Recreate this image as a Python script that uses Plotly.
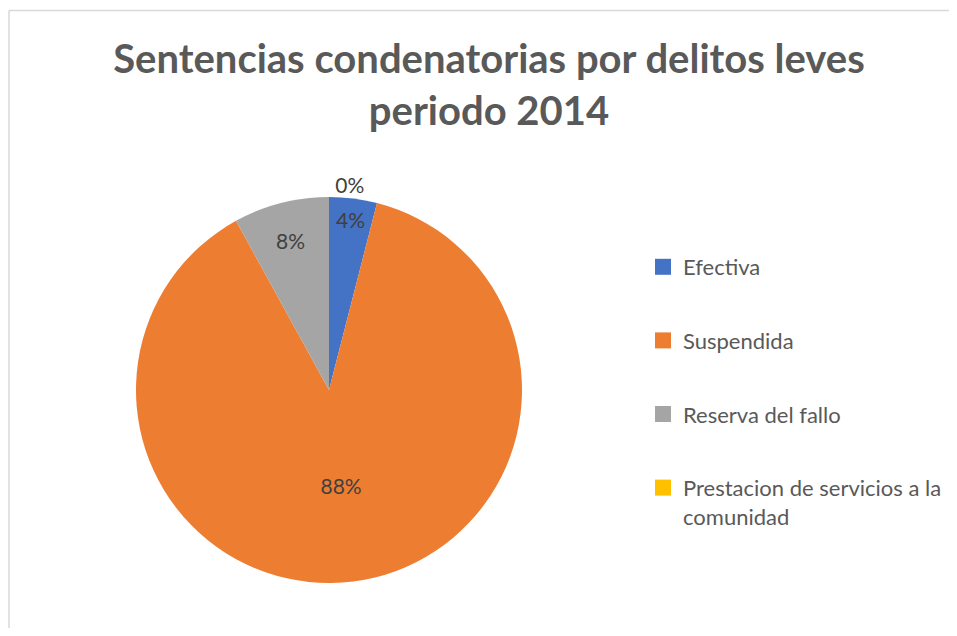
import plotly.graph_objects as go

labels = ['Efectiva', 'Suspendida', 'Reserva del fallo', 'Prestacion de servicios a la comunidad']
values = [4, 88, 8, 0]
colors = ['#4472C4', '#ED7D31', '#A5A5A5', '#FFC000']
legend_names = ['Efectiva', 'Suspendida', 'Reserva del fallo', 'Prestacion de servicios a la<br>comunidad']

OFF = 8  # page body margin
W, H = 957 - 2 * OFF, 636 - 2 * OFF


def px_x(x):
    return (x - OFF) / W


def px_y(y):
    return 1 - (y - OFF) / H


fig = go.Figure()

fig.add_trace(go.Pie(
    labels=labels,
    values=values,
    sort=False,
    direction='clockwise',
    rotation=0,
    marker=dict(colors=colors, line=dict(width=0)),
    texttemplate='%{percent:.0%}',
    textposition=['inside', 'inside', 'inside', 'outside'],
    insidetextorientation='horizontal',
    textfont=dict(family='Lato', size=21, color='#404040'),
    showlegend=False,
    domain=dict(x=[px_x(136), px_x(522)], y=[px_y(583), px_y(197)]),
))

# legend entries as separate groups so they can be spaced like the original
for name, col in zip(legend_names, colors):
    fig.add_trace(go.Scatter(
        x=[None], y=[None], mode='markers', name=name, legendgroup=name,
        marker=dict(symbol='square', size=16, color=col),
    ))

# chart-area frame: only top and left edges fall inside the picture
frame = dict(color='#D9D9D9', width=1.5)
fig.update_layout(
    width=W, height=H,
    margin=dict(l=0, r=0, t=0, b=0),
    paper_bgcolor='white',
    plot_bgcolor='white',
    title=dict(
        text='<b>Sentencias condenatorias por delitos leves<br>periodo 2014</b>',
        x=px_x(489), xanchor='center', y=1 - 65 / H, yanchor='top',
        font=dict(family='Lato', size=40, color='#595959'),
    ),
    xaxis=dict(visible=False),
    yaxis=dict(visible=False),
    legend=dict(
        x=px_x(643), y=px_y(246), xanchor='left', yanchor='top',
        font=dict(family='Lato', size=22, color='#595959'),
        tracegroupgap=42, valign='top', bgcolor='rgba(0,0,0,0)',
    ),
    shapes=[
        dict(type='line', xref='paper', yref='paper',
             x0=px_x(9), x1=1, y0=px_y(10.5), y1=px_y(10.5), line=frame),
        dict(type='line', xref='paper', yref='paper',
             x0=px_x(9), x1=px_x(9), y0=0, y1=px_y(10.5), line=frame),
    ],
    uniformtext=dict(minsize=21, mode='show'),
)

fig.write_html("out.html")
